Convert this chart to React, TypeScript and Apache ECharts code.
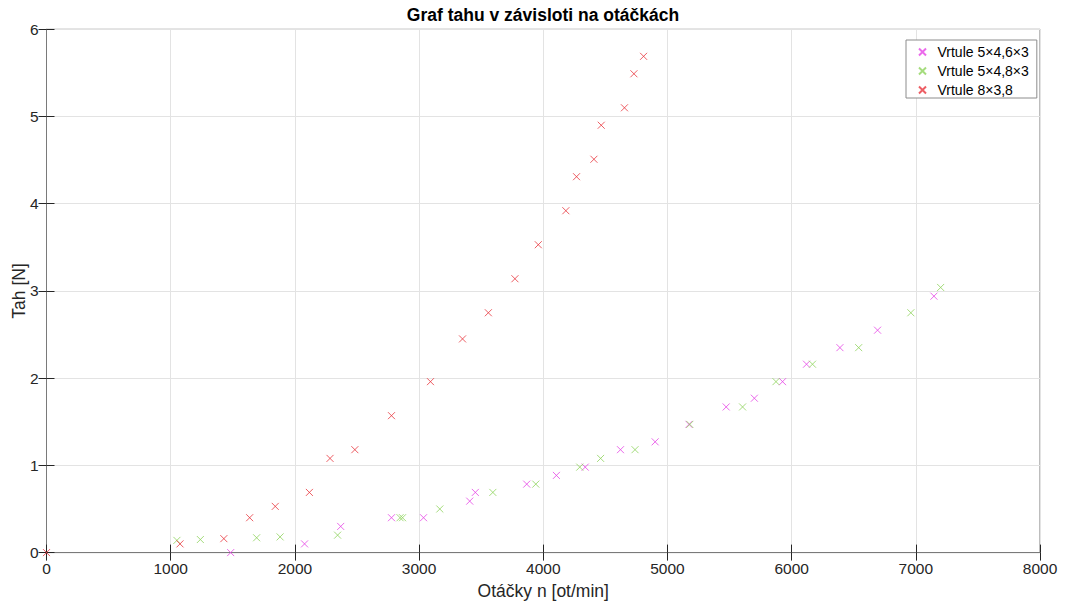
import React, { useEffect, useRef } from "react";
import * as echarts from "echarts";

const xTicks = [0, 1000, 2000, 3000, 4000, 5000, 6000, 7000, 8000];
const yTicks = [0, 1, 2, 3, 4, 5, 6];

const names = ["Vrtule 5×4,6×3", "Vrtule 5×4,8×3", "Vrtule 8×3,8"];
const colors = ["#e645e6", "#8fd35c", "#e8363d"];

const magentaX = [1483, 2078, 2369, 2778, 3036, 3408, 3453, 3867, 4106, 4338, 4622, 4901, 5174, 5473, 5700, 5927, 6120, 6389, 6692, 7146];
const magentaY = [0, 0.1, 0.3, 0.4, 0.4, 0.59, 0.69, 0.785, 0.885, 0.98, 1.18, 1.27, 1.47, 1.67, 1.77, 1.96, 2.16, 2.35, 2.55, 2.94];

const greenX = [1050, 1239, 1692, 1881, 2344, 2847, 2867, 3167, 3594, 3940, 4294, 4462, 4739, 5180, 5605, 5874, 6168, 6540, 6960, 7200];
const greenY = [0.14, 0.15, 0.17, 0.18, 0.2, 0.4, 0.4, 0.5, 0.69, 0.785, 0.98, 1.08, 1.18, 1.47, 1.67, 1.96, 2.16, 2.35, 2.75, 3.04];

const redX = [0, 1075, 1428, 1636, 1842, 2117, 2283, 2483, 2778, 3092, 3350, 3558, 3772, 3960, 4182, 4268, 4408, 4467, 4654, 4730, 4808];
const redY = [0, 0.1, 0.16, 0.4, 0.53, 0.69, 1.08, 1.18, 1.57, 1.96, 2.45, 2.75, 3.14, 3.53, 3.92, 4.31, 4.51, 4.9, 5.1, 5.49, 5.69];

const FONT = "'Liberation Sans', Arial, Helvetica, sans-serif";
const CROSS = "path://M0,0L10,10M10,0L0,10";

function pairs(xs: number[], ys: number[]) {
  return xs.map((x, i) => [x, ys[i]]);
}

export default function App() {
  const ref = useRef<HTMLDivElement>(null);
  useEffect(() => {
    document.body.style.margin = "0";
    if (!ref.current) return;
    const chart = echarts.init(ref.current, undefined, { renderer: "svg" });
    const seriesData = [pairs(magentaX, magentaY), pairs(greenX, greenY), pairs(redX, redY)];
    const axisLineColor = "#7a7a7a";
    const tickLabel = { color: "#262626", fontSize: 15.5, fontFamily: FONT };
    const xMin = xTicks[0];
    const xMax = xTicks[xTicks.length - 1];
    const xInt = xTicks[1] - xTicks[0];
    const yMin = yTicks[0];
    const yMax = yTicks[yTicks.length - 1];
    const yInt = yTicks[1] - yTicks[0];
    chart.setOption({
      animation: false,
      backgroundColor: "#ffffff",
      graphic: [
        {
          type: "text",
          x: 543,
          y: 15,
          style: {
            text: "Graf tahu v závisloti na otáčkách",
            font: `bold 17.5px ${FONT}`,
            fill: "#000000",
            textAlign: "center",
            textVerticalAlign: "middle",
          },
        },
      ],
      grid: {
        left: 46.5,
        right: 34,
        top: 29.3,
        bottom: 57.4,
        containLabel: false,
        outerBoundsMode: "none",
        show: true,
        borderColor: axisLineColor,
        borderWidth: 1,
        backgroundColor: "#ffffff",
      },
      legend: {
        orient: "vertical",
        left: 906,
        top: 40,
        data: names,
        icon: CROSS,
        itemWidth: 20,
        itemHeight: 7,
        itemGap: 5,
        padding: [5, 8, 1, 12],
        borderColor: "#8c8c8c",
        borderWidth: 1,
        borderRadius: 0,
        backgroundColor: "#ffffff",
        textStyle: { color: "#000000", fontSize: 14, fontFamily: FONT },
      },
      xAxis: [
        {
          type: "value",
          min: xMin,
          max: xMax,
          interval: xInt,
          name: "Otáčky n [ot/min]",
          nameLocation: "middle",
          nameGap: 29,
          nameMoveOverlap: false,
          nameTextStyle: { color: "#262626", fontSize: 17.5, fontFamily: FONT },
          axisLine: { show: true, lineStyle: { color: axisLineColor } },
          axisTick: { show: true, inside: true, length: 8, lineStyle: { color: "#262626" } },
          axisLabel: { ...tickLabel, margin: 8, formatter: (v: number) => String(v) },
          splitLine: { show: true, lineStyle: { color: "#e3e3e3" } },
        },
        {
          type: "value",
          position: "top",
          min: xMin,
          max: xMax,
          interval: xInt,
          axisLine: { show: true, lineStyle: { color: axisLineColor } },
          axisTick: { show: true, inside: true, length: 8, lineStyle: { color: "#262626" } },
          axisLabel: { show: false },
          splitLine: { show: false },
        },
      ],
      yAxis: [
        {
          type: "value",
          min: yMin,
          max: yMax,
          interval: yInt,
          name: "Tah [N]",
          nameLocation: "middle",
          nameGap: 19,
          nameMoveOverlap: false,
          nameTextStyle: { color: "#262626", fontSize: 17.5, fontFamily: FONT },
          axisLine: { show: true, lineStyle: { color: axisLineColor } },
          axisTick: { show: true, inside: true, length: 8, lineStyle: { color: "#262626" } },
          axisLabel: { ...tickLabel, margin: 8, formatter: (v: number) => String(v) },
          splitLine: { show: true, lineStyle: { color: "#e3e3e3" } },
        },
        {
          type: "value",
          position: "right",
          min: yMin,
          max: yMax,
          interval: yInt,
          axisLine: { show: true, lineStyle: { color: axisLineColor } },
          axisTick: { show: true, inside: true, length: 8, lineStyle: { color: "#262626" } },
          axisLabel: { show: false },
          splitLine: { show: false },
        },
      ],
      series: names.map((n, i) => ({
        name: n,
        type: "scatter",
        xAxisIndex: 0,
        yAxisIndex: 0,
        symbol: CROSS,
        symbolSize: 7,
        data: seriesData[i],
        itemStyle: { color: "rgba(0,0,0,0)", borderColor: colors[i], borderWidth: 1 },
        emphasis: { disabled: true },
      })),
    });
    return () => chart.dispose();
  }, []);
  return <div ref={ref} style={{ width: 1074, height: 610 }} />;
}
